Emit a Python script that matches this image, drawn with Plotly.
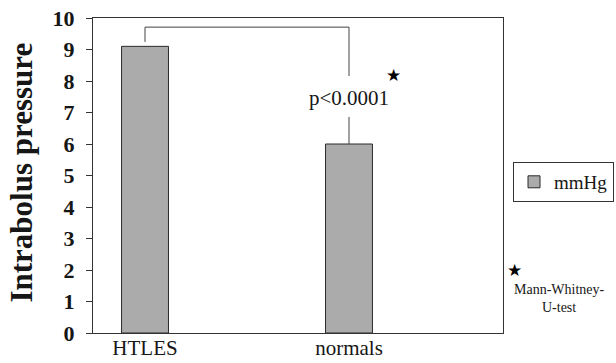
import plotly.graph_objects as go

# Mean intrabolus pressure per group
categories = ["HTLES", "normals"]
pressure = [9.1, 6.0]
series_name = "mmHg"
y_title = "Intrabolus pressure"
p_label = "p<0.0001"
test_label = "Mann-Whitney-<br>U-test"
y_ticks = list(range(0, 11))

serif = "Liberation Serif"
ink = "#161616"
bar_grey = "#ababab"

xpos = list(range(len(categories)))

fig = go.Figure()

fig.add_trace(go.Bar(
    x=xpos, y=pressure, name=series_name, width=0.23,
    marker=dict(color=bar_grey, line=dict(color="#2a2a2a", width=1)),
    showlegend=True,
))

# significance bracket between the two bars
top = max(pressure) + 0.61
fig.add_trace(go.Scatter(
    x=[xpos[0], xpos[0], xpos[1], xpos[1]],
    y=[pressure[0] + 0.14, top, top, pressure[1] + 2.16],
    mode="lines", line=dict(color="#444", width=1), showlegend=False, hoverinfo="skip",
))
fig.add_trace(go.Scatter(
    x=[xpos[1], xpos[1]],
    y=[pressure[1] + 0.86, pressure[1]],
    mode="lines", line=dict(color="#444", width=1), showlegend=False, hoverinfo="skip",
))

fig.add_annotation(x=xpos[1], y=pressure[1] + 1.46, text=p_label, showarrow=False,
                   xanchor="center", yanchor="middle",
                   font=dict(family=serif, size=21, color=ink))
fig.add_annotation(x=1.22, y=8.19, text="★", showarrow=False,
                   xanchor="center", yanchor="middle",
                   font=dict(family="DejaVu Sans", size=17, color="#000"))
fig.add_annotation(x=1.029, y=0.2, xref="paper", yref="paper", text="★", showarrow=False,
                   xanchor="center", yanchor="middle",
                   font=dict(family="DejaVu Sans", size=17, color="#000"))
fig.add_annotation(x=1.139, y=0.11, xref="paper", yref="paper", text=test_label, showarrow=False,
                   xanchor="center", yanchor="middle", align="center",
                   font=dict(family=serif, size=14, color=ink))

# vertical axis title
fig.add_annotation(x=-0.175, y=0.51, xref="paper", yref="paper", text=y_title,
                   showarrow=False, textangle=-90, xanchor="center", yanchor="middle",
                   font=dict(family=serif, size=31, color=ink, weight="bold"))

fig.update_layout(
    width=616, height=363,
    margin=dict(l=93, r=113, t=18, b=30, autoexpand=False),
    paper_bgcolor="white", plot_bgcolor="white",
    font=dict(family=serif, color=ink),
    xaxis=dict(
        range=[-0.255, 1.755], tickvals=xpos, ticktext=categories,
        showline=True, linecolor="#333", linewidth=1, mirror=True,
        showgrid=False, zeroline=False, ticks="", automargin=False,
        ticklabelstandoff=-4,
        tickfont=dict(family=serif, size=21, color=ink),
    ),
    yaxis=dict(
        range=[0, 10], tickvals=y_ticks, automargin=False,
        showline=True, linecolor="#333", linewidth=1, mirror=True,
        showgrid=False, zeroline=False,
        ticks="outside", ticklen=6, tickcolor="#333",
        ticklabelstandoff=7,
        tickfont=dict(family=serif, size=22, color=ink, weight="bold"),
    ),
    legend=dict(
        x=1.0244, y=0.543, xanchor="left", yanchor="top",
        bordercolor="#333", borderwidth=1, bgcolor="white",
        font=dict(family=serif, size=19, color=ink),
        itemwidth=30,
    ),
)

fig.write_html("out.html")
